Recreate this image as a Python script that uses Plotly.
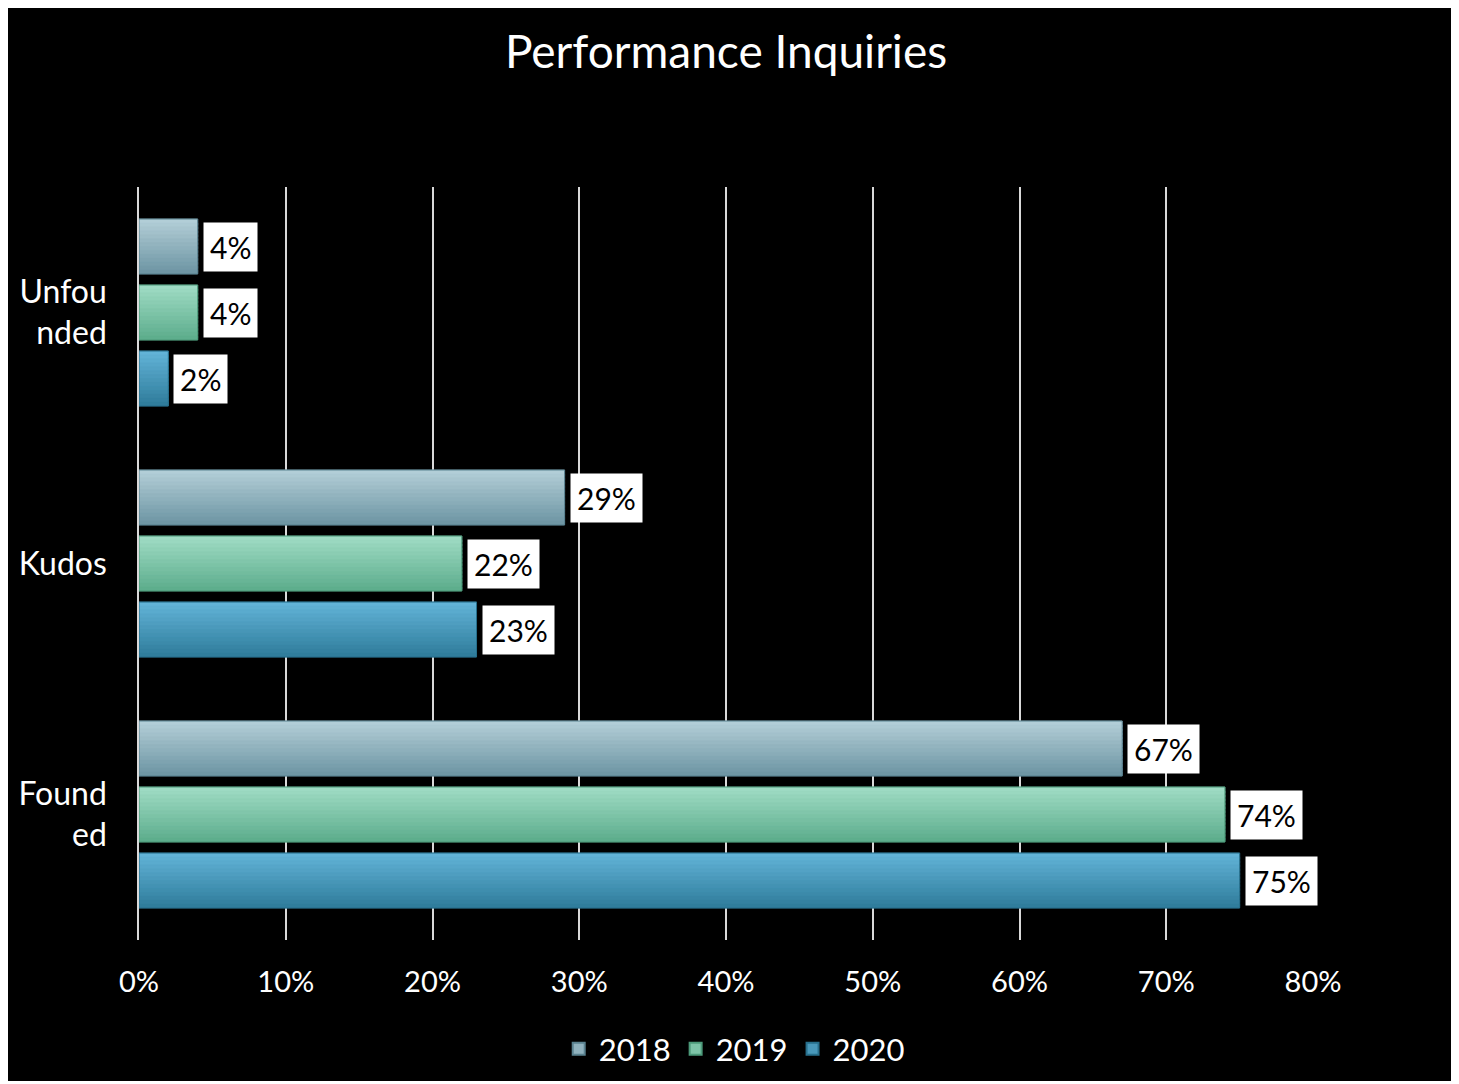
import plotly.graph_objects as go

categories = ["Unfou<br>nded", "Kudos", "Found<br>ed"]
years = ["2018", "2019", "2020"]
values_2018 = [4, 29, 67]
values_2019 = [4, 22, 74]
values_2020 = [2, 23, 75]
series = [values_2018, values_2019, values_2020]
# gradient (top colour, bottom colour) per series
top_colors = ["#B5D0D9", "#A2DDC6", "#64B5D9"]
bottom_colors = ["#6C94A2", "#5BAC8B", "#2E7B9A"]
edge_colors = ["#5A8290", "#4C9A7A", "#276F8C"]
x_ticks = [0, 10, 20, 30, 40, 50, 60, 70, 80]
x_tick_labels = [f"{t}%" for t in x_ticks]

FONT = "Lato, 'Open Sans', sans-serif"

W, H = 1451, 1076
L, T, R, B = 131, 179, 146, 144
PW, PH = W - L - R, H - T - B

BARGAP, GROUPGAP = 0.211, 0.167
group_w = 1 - BARGAP
slot = group_w / len(series)
bar_w = slot * (1 - GROUPGAP)
N_STRIPES = 14


def hex2rgb(h):
    h = h.lstrip("#")
    return tuple(int(h[i:i + 2], 16) for i in (0, 2, 4))


def mix(c1, c2, t):
    a, b = hex2rgb(c1), hex2rgb(c2)
    return "rgb(%d,%d,%d)" % tuple(round(a[i] + (b[i] - a[i]) * t) for i in range(3))


fig = go.Figure()
for k, (name, vals) in enumerate(zip(years, series)):
    center = -group_w / 2 + slot * (k + 0.5)
    top = center - bar_w / 2
    sw = bar_w / N_STRIPES
    for i in range(N_STRIPES):
        t = (i + 0.5) / N_STRIPES
        c = mix(top_colors[k], bottom_colors[k], t)
        w = sw * 1.6 if i < N_STRIPES - 1 else sw
        fig.add_trace(go.Bar(
            y=categories, x=vals, orientation="h",
            offset=top + i * sw, width=w,
            marker=dict(color=c, line=dict(width=0.5, color=c)),
            showlegend=False, hoverinfo="skip",
        ))
    # outline
    fig.add_trace(go.Bar(
        y=categories, x=vals, orientation="h", name=name,
        offset=top, width=bar_w,
        marker=dict(color="rgba(0,0,0,0)", line=dict(color=edge_colors[k], width=1)),
        showlegend=False, hoverinfo="x+name",
    ))
    # legend-only trace with gradient middle colour
    fig.add_trace(go.Bar(
        y=[None], x=[None], orientation="h", name=name,
        marker=dict(color=mix(top_colors[k], bottom_colors[k], 0.5),
                    line=dict(color=edge_colors[k], width=2)),
        showlegend=True,
    ))

# data labels in white boxes
shifts = [66, 0, -66]
for vals, ys in zip(series, shifts):
    for cat, v in zip(categories, vals):
        fig.add_annotation(
            x=v, y=cat, xref="x", yref="y", text=f"{v}%",
            showarrow=False, xanchor="left", yanchor="middle",
            xshift=5, yshift=ys,
            font=dict(family=FONT, size=30, color="black"),
            bgcolor="white", borderpad=6,
        )

# black frame behind everything
fig.add_shape(type="rect", xref="paper", yref="paper",
              x0=-L / PW, x1=(W - 8 - L) / PW,
              y0=-(B - 3) / PH, y1=(PH + T) / PH,
              fillcolor="black", line=dict(width=0), layer="below")

fig.update_layout(
    width=W, height=H,
    paper_bgcolor="white", plot_bgcolor="black",
    margin=dict(l=L, r=R, t=T, b=B, autoexpand=False),
    barmode="overlay",
    font=dict(family=FONT, color="white", size=29),
    title=dict(text="Performance Inquiries", x=0.5, xref="paper",
               y=(H - 44) / H, yanchor="middle",
               font=dict(family=FONT, size=46, color="white")),
    legend=dict(orientation="h", x=0.507, xanchor="center",
                y=-0.145, yanchor="middle",
                font=dict(family=FONT, size=31, color="white"),
                bgcolor="rgba(0,0,0,0)", itemwidth=30, traceorder="normal"),
    showlegend=True,
)
fig.update_xaxes(range=[0, 80], tickvals=x_ticks, ticktext=x_tick_labels,
                 showgrid=True, gridcolor="#D9D9D9", gridwidth=1.5,
                 zeroline=False, showline=False, automargin=False,
                 tickfont=dict(family=FONT, size=29, color="white"),
                 ticks="", ticklabelstandoff=22)
fig.update_yaxes(autorange="reversed", showgrid=False, zeroline=False,
                 showline=True, linecolor="#D9D9D9", linewidth=1.5, automargin=False,
                 tickfont=dict(family=FONT, size=32, color="white"),
                 ticks="", ticklabelstandoff=24)

fig.write_html("out.html")
